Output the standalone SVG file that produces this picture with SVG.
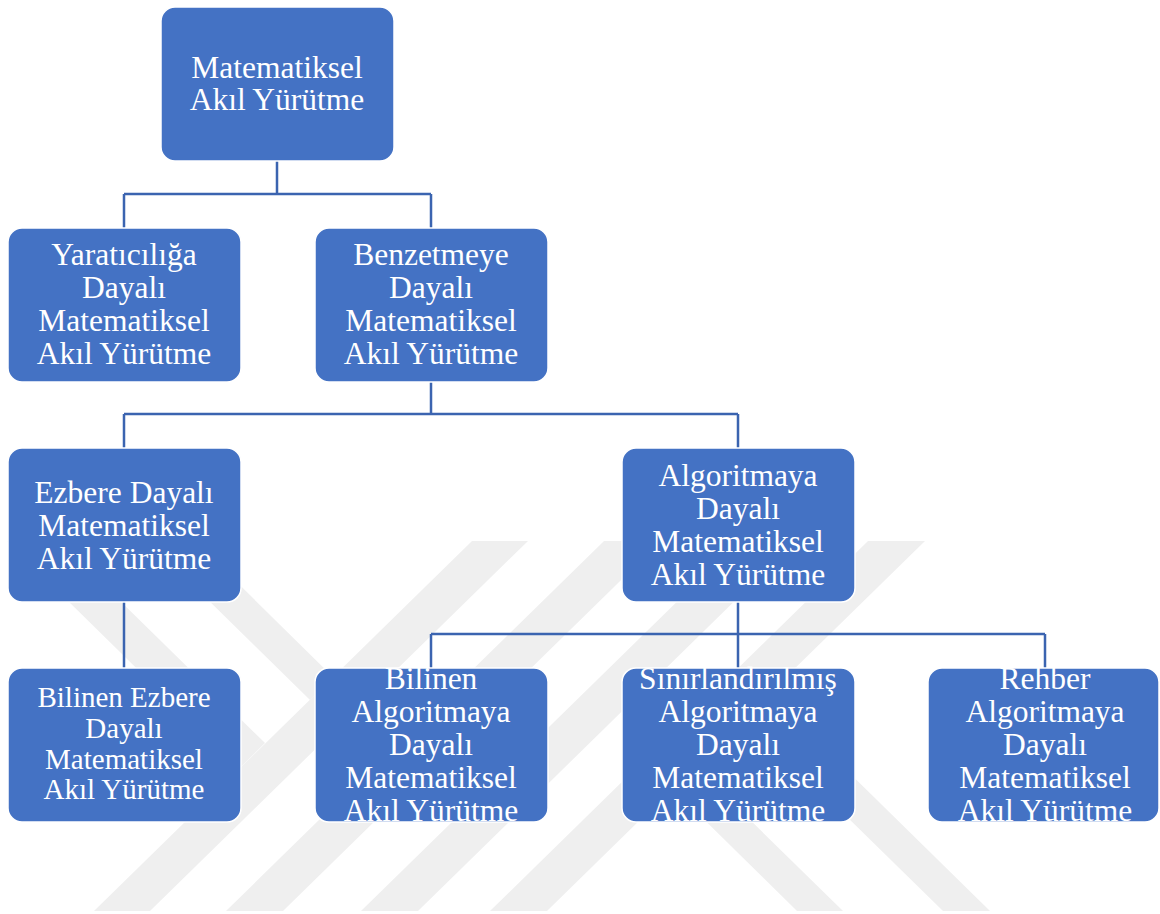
<svg xmlns="http://www.w3.org/2000/svg" width="1160" height="914" viewBox="0 0 1160 914">
<style>
.wm{fill:#efefef}
.box{fill:#4472C4;stroke:#ffffff;stroke-width:1.5}
.t{font-family:"Liberation Serif","Times New Roman",serif;font-size:31.5px;fill:#ffffff;text-anchor:middle}
.ts{font-size:29px}
.c{fill:none;stroke:#3B64B0;stroke-width:2.5}
</style>
<rect width="1160" height="914" fill="#ffffff"/>
<g id="watermark">
<polygon class="wm" points="94,911 150,911 528,541 472,541"/>
<polygon class="wm" points="226,911 283,911 661,541 604,541"/>
<polygon class="wm" points="361,911 418,911 796,541 739,541"/>
<polygon class="wm" points="490,911 547,911 925,541 868,541"/>
<polygon class="wm" points="7,541 59,541 265,743 239,769"/>
<polygon class="wm" points="148,541 195,541 333,677 310,700"/>
<polygon class="wm" points="797,911 843,911 695,766 672,788"/>
<polygon class="wm" points="943,911 990,911 769,694 745,717"/>
</g>
<g id="connectors">
<path class="c" d="M277,161 V194 M124,194 H431 M124,194 V228 M431,194 V228"/>
<path class="c" d="M431,382 V414 M124,414 H738 M124,414 V448 M738,414 V448"/>
<path class="c" d="M124,602 V668"/>
<path class="c" d="M738,602 V634 M431,634 H1045 M431,634 V668 M738,634 V668 M1045,634 V668"/>
</g>
<g id="root">
<rect class="box" x="161" y="7" width="233" height="154" rx="14"/>
<text class="t" x="277" y="78">Matematiksel</text>
<text class="t" x="277" y="110">Akıl Yürütme</text>
</g>
<g id="yaraticiliga">
<rect class="box" x="8" y="228" width="233" height="154" rx="14"/>
<text class="t" x="124" y="265">Yaratıcılığa</text>
<text class="t" x="124" y="298">Dayalı</text>
<text class="t" x="124" y="331">Matematiksel</text>
<text class="t" x="124" y="364">Akıl Yürütme</text>
</g>
<g id="benzetmeye">
<rect class="box" x="315" y="228" width="233" height="154" rx="14"/>
<text class="t" x="431" y="265">Benzetmeye</text>
<text class="t" x="431" y="298">Dayalı</text>
<text class="t" x="431" y="331">Matematiksel</text>
<text class="t" x="431" y="364">Akıl Yürütme</text>
</g>
<g id="ezbere">
<rect class="box" x="8" y="448" width="233" height="154" rx="14"/>
<text class="t" x="124" y="503">Ezbere Dayalı</text>
<text class="t" x="124" y="536">Matematiksel</text>
<text class="t" x="124" y="569">Akıl Yürütme</text>
</g>
<g id="algoritmaya">
<rect class="box" x="622" y="448" width="233" height="154" rx="14"/>
<text class="t" x="738" y="486">Algoritmaya</text>
<text class="t" x="738" y="519">Dayalı</text>
<text class="t" x="738" y="552">Matematiksel</text>
<text class="t" x="738" y="585">Akıl Yürütme</text>
</g>
<g id="bilinen-ezbere">
<rect class="box" x="8" y="668" width="233" height="154" rx="14"/>
<text class="t ts" x="124" y="707">Bilinen Ezbere</text>
<text class="t ts" x="124" y="738">Dayalı</text>
<text class="t ts" x="124" y="769">Matematiksel</text>
<text class="t ts" x="124" y="799">Akıl Yürütme</text>
</g>
<g id="bilinen-algoritmaya">
<rect class="box" x="315" y="668" width="233" height="154" rx="14"/>
<text class="t" x="431" y="689">Bilinen</text>
<text class="t" x="431" y="722">Algoritmaya</text>
<text class="t" x="431" y="755">Dayalı</text>
<text class="t" x="431" y="788">Matematiksel</text>
<text class="t" x="431" y="821">Akıl Yürütme</text>
</g>
<g id="sinirlandirilmis">
<rect class="box" x="622" y="668" width="233" height="154" rx="14"/>
<text class="t" x="738" y="689">Sınırlandırılmış</text>
<text class="t" x="738" y="722">Algoritmaya</text>
<text class="t" x="738" y="755">Dayalı</text>
<text class="t" x="738" y="788">Matematiksel</text>
<text class="t" x="738" y="821">Akıl Yürütme</text>
</g>
<g id="rehber">
<rect class="box" x="928" y="668" width="231" height="154" rx="14"/>
<text class="t" x="1045" y="689">Rehber</text>
<text class="t" x="1045" y="722">Algoritmaya</text>
<text class="t" x="1045" y="755">Dayalı</text>
<text class="t" x="1045" y="788">Matematiksel</text>
<text class="t" x="1045" y="821">Akıl Yürütme</text>
</g>
</svg>
